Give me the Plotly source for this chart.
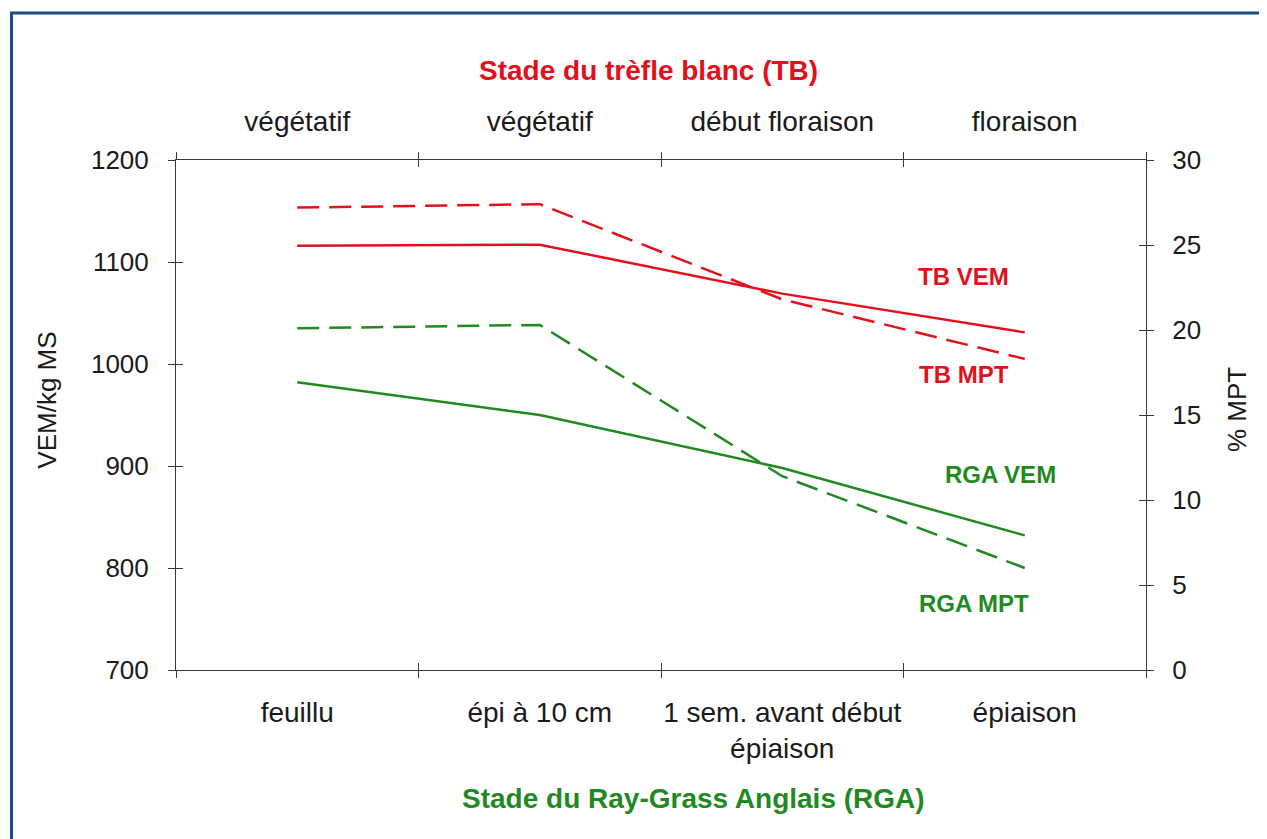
import plotly.graph_objects as go

# stades (axe du bas = RGA, axe du haut = TB)
rga_stades = ["feuillu", "épi à 10 cm", "1 sem. avant début<br>épiaison", "épiaison"]
tb_stades = ["végétatif", "végétatif", "début floraison", "floraison"]

# valeurs
tb_vem = [1116, 1117, 1069, 1031]      # VEM/kg MS (axe gauche)
tb_mpt = [27.2, 27.4, 21.8, 18.3]      # % MPT (axe droit)
rga_vem = [982, 950, 898, 832]
rga_mpt = [20.1, 20.3, 11.4, 6.0]

vem_range = [700, 1200]
mpt_range = [0, 30]

RED = "#E3101B"
GREEN = "#1F8A1F"
AXIS = "#3A3A3A"
TXT = "#1A1A1A"
FONT = "Liberation Sans, Arial, sans-serif"

pos = list(range(len(rga_stades)))
bounds = [p - 0.5 for p in pos] + [pos[-1] + 0.5]
xr = [bounds[0], bounds[-1]]

fig = go.Figure()

fig.add_trace(go.Scatter(x=pos, y=tb_vem, mode="lines", name="TB VEM",
                         line=dict(color=RED, width=2.5), yaxis="y"))
fig.add_trace(go.Scatter(x=pos, y=tb_mpt, mode="lines", name="TB MPT",
                         line=dict(color=RED, width=2.5, dash="22px,10px"), yaxis="y2"))
fig.add_trace(go.Scatter(x=pos, y=rga_vem, mode="lines", name="RGA VEM",
                         line=dict(color=GREEN, width=2.5), yaxis="y"))
fig.add_trace(go.Scatter(x=pos, y=rga_mpt, mode="lines", name="RGA MPT",
                         line=dict(color=GREEN, width=2.5, dash="22px,10px"), yaxis="y2"))

cat_font = dict(family=FONT, size=28, color=TXT)
num_font = dict(family=FONT, size=26, color=TXT)

# la page html ajoute 8px de marge : on compense en haut et à gauche
fig.update_layout(
    width=1267, height=839,
    margin=dict(l=168, r=129, t=152, b=177),
    plot_bgcolor="white",
    paper_bgcolor="white",
    showlegend=False,
    font=dict(family=FONT, color=TXT),
    # axe du bas (RGA)
    xaxis=dict(range=xr, tickmode="array", tickvals=pos, ticktext=rga_stades,
               ticks="", ticklabelstandoff=17, tickfont=cat_font,
               showline=True, linecolor=AXIS, linewidth=1,
               showgrid=False, zeroline=False,
               minor=dict(tickmode="array", tickvals=bounds, ticks="outside",
                          ticklen=7, tickcolor=AXIS, showgrid=False)),
    # axe du haut (TB)
    xaxis2=dict(range=xr, overlaying="x", side="top", anchor="y",
                tickmode="array", tickvals=pos, ticktext=tb_stades,
                ticks="", ticklabelstandoff=17, tickfont=cat_font,
                showline=True, linecolor=AXIS, linewidth=1,
                showgrid=False, zeroline=False,
                minor=dict(tickmode="array", tickvals=bounds, ticks="outside",
                           ticklen=7, tickcolor=AXIS, showgrid=False)),
    # petits traits intérieurs (ticks croisés)
    xaxis3=dict(range=xr, overlaying="x", side="bottom", anchor="y",
                tickmode="array", tickvals=bounds, ticks="inside", ticklen=7,
                tickcolor=AXIS, showticklabels=False, showgrid=False, zeroline=False),
    xaxis4=dict(range=xr, overlaying="x", side="top", anchor="y",
                tickmode="array", tickvals=bounds, ticks="inside", ticklen=7,
                tickcolor=AXIS, showticklabels=False, showgrid=False, zeroline=False),
    yaxis=dict(range=vem_range, dtick=100, ticks="outside", ticklen=7, tickcolor=AXIS,
               ticklabelstandoff=14, tickfont=num_font,
               showline=True, linecolor=AXIS, linewidth=1,
               showgrid=False, zeroline=False),
    yaxis2=dict(range=mpt_range, dtick=5, side="right", overlaying="y", anchor="x",
                ticks="outside", ticklen=7, tickcolor=AXIS,
                ticklabelstandoff=13, tickfont=num_font,
                showline=True, linecolor=AXIS, linewidth=1,
                showgrid=False, zeroline=False),
    yaxis3=dict(range=vem_range, dtick=100, overlaying="y", side="left", anchor="x",
                ticks="inside", ticklen=7, tickcolor=AXIS, showticklabels=False,
                showgrid=False, zeroline=False),
    yaxis4=dict(range=mpt_range, dtick=5, overlaying="y", side="right", anchor="x",
                ticks="inside", ticklen=7, tickcolor=AXIS, showticklabels=False,
                showgrid=False, zeroline=False),
)

# traces vides pour que les axes superposés soient dessinés
for xa, ya in [("x2", "y"), ("x3", "y"), ("x4", "y"), ("x", "y3"), ("x", "y4")]:
    fig.add_trace(go.Scatter(x=[None], y=[None], xaxis=xa, yaxis=ya,
                             showlegend=False, hoverinfo="skip"))

# cadre bleu
fig.add_shape(type="rect", xref="paper", yref="paper",
              x0=-0.1696, y0=1.288, x1=1.3, y1=-0.5,
              line=dict(color="#1B4C86", width=3), layer="below")


def note(text, x, y, font, angle=0):
    fig.add_annotation(text=text, xref="paper", yref="paper", x=x, y=y,
                       xanchor="center", yanchor="middle", textangle=angle,
                       showarrow=False, font=font)


title_font = dict(family=FONT, size=28)
note("<b>Stade du trèfle blanc (TB)</b>", 0.4866, 1.176, dict(title_font, color=RED))
note("<b>Stade du Ray-Grass Anglais (RGA)</b>", 0.533, -0.252, dict(title_font, color=GREEN))
note("VEM/kg MS", -0.133, 0.53, num_font, -90)
note("% MPT", 1.094, 0.51, num_font, -90)

lab_font = dict(family=FONT, size=24)
for txt, x, y, col in [("TB VEM", 0.812, 0.771, RED), ("TB MPT", 0.812, 0.580, RED),
                       ("RGA VEM", 0.850, 0.384, GREEN), ("RGA MPT", 0.823, 0.131, GREEN)]:
    note("<b>%s</b>" % txt, x, y, dict(lab_font, color=col))

fig.write_html("out.html")
